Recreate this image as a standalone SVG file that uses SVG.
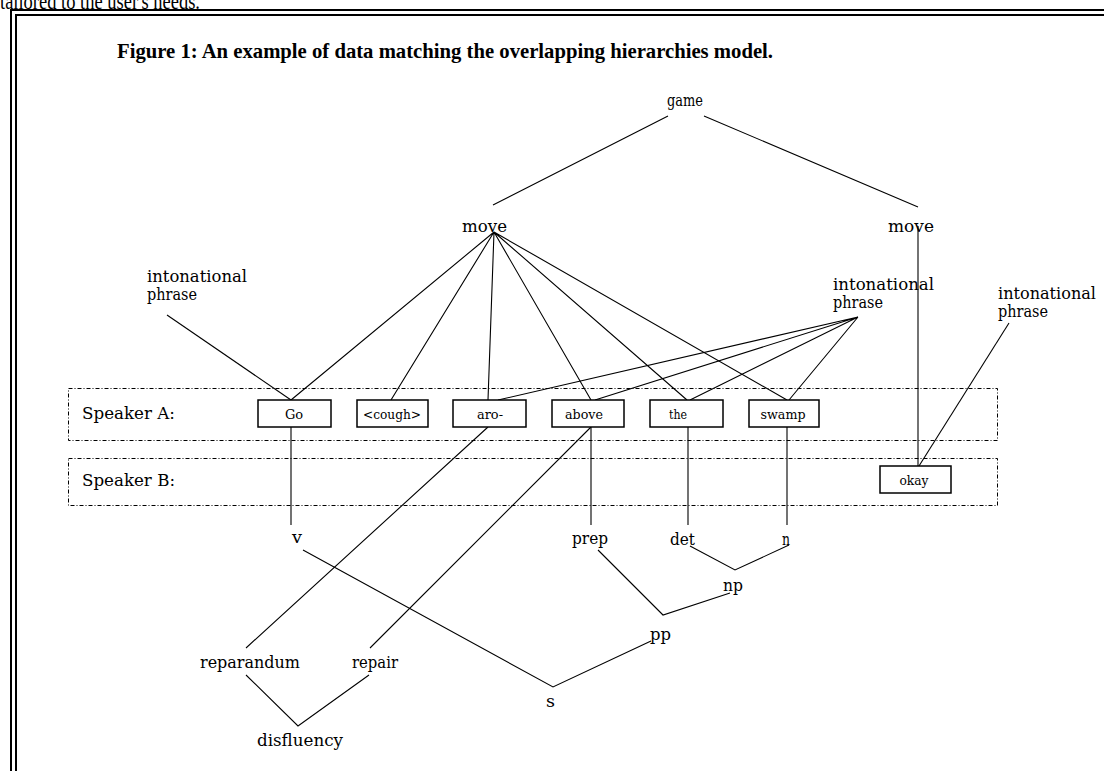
<svg xmlns="http://www.w3.org/2000/svg" width="1104" height="771" viewBox="0 0 1104 771">
<style>
.t{font-family:"DejaVu Serif","Liberation Serif",serif;font-size:17px;fill:#000}
.b{font-family:"DejaVu Serif","Liberation Serif",serif;font-size:13px;fill:#000;text-anchor:middle}
.ln{stroke:#000;stroke-width:1.1;fill:none}
.box{stroke:#000;stroke-width:1.5;fill:#fff}
.spk{stroke:#000;stroke-width:1;fill:none;stroke-dasharray:4,2,1,2}
.fr{stroke:#000;stroke-width:2;fill:none}
</style>
<rect width="1104" height="771" fill="#fff"/>
<text x="0" y="9" font-family="Liberation Serif,serif" font-size="24" textLength="200" lengthAdjust="spacingAndGlyphs">tailored to the user's needs.</text>
<path class="fr" d="M11,771 V10 H1104"/>
<path class="fr" d="M16,771 V15 H1104"/>
<text x="117" y="58" font-family="Liberation Serif,serif" font-weight="bold" font-size="21" textLength="656" lengthAdjust="spacingAndGlyphs">Figure 1:  An example of data matching the overlapping hierarchies model.</text>

<g id="speakerA"><rect class="spk" x="68.5" y="388.5" width="929" height="52"/><text class="t" x="82" y="419" textLength="93" lengthAdjust="spacingAndGlyphs">Speaker A:</text></g>
<g id="speakerB"><rect class="spk" x="68.5" y="458.5" width="929" height="47"/><text class="t" x="82" y="486" textLength="93" lengthAdjust="spacingAndGlyphs">Speaker B:</text></g>

<g id="connectors">
<path class="ln" d="M493,205 L668,116 M704,116 L918,207"/>
<path class="ln" d="M494,232 L291,400 M494,232 L391,400 M494,232 L488,400 M494,232 L591,400 M494,232 L687,400 M494,232 L787,400"/>
<path class="ln" d="M167,315 L291,400"/>
<path class="ln" d="M858,317 L498,400 M858,317 L595,400 M858,317 L690,400 M858,317 L789,400"/>
<path class="ln" d="M918,226 V466"/>
<path class="ln" d="M1009,323 L919,466"/>
<path class="ln" d="M291,427 V525 M591,427 V525 M688,427 V525 M787,427 V525"/>
<path class="ln" d="M488,427 L246,648 M591,427 L370,648"/>
<path class="ln" d="M303,550 L553,687 L651,641"/>
<path class="ln" d="M598,550 L663,615 L730,593"/>
<path class="ln" d="M690,546 L735,570 L789,545"/>
<path class="ln" d="M246,675 L298,726 L369,675"/>
</g>

<g id="game"><text class="t" x="667" y="106" textLength="36" lengthAdjust="spacingAndGlyphs">game</text></g>
<g id="move1"><text class="t" x="462" y="232" textLength="45" lengthAdjust="spacingAndGlyphs">move</text></g>
<g id="move2"><text class="t" x="888" y="232" textLength="46" lengthAdjust="spacingAndGlyphs">move</text></g>
<g id="ip1"><text class="t" x="147" y="282" textLength="100" lengthAdjust="spacingAndGlyphs">intonational</text><text class="t" x="147" y="300" textLength="50" lengthAdjust="spacingAndGlyphs">phrase</text></g>
<g id="ip2"><text class="t" x="833" y="290" textLength="101" lengthAdjust="spacingAndGlyphs">intonational</text><text class="t" x="833" y="308" textLength="50" lengthAdjust="spacingAndGlyphs">phrase</text></g>
<g id="ip3"><text class="t" x="998" y="299" textLength="98" lengthAdjust="spacingAndGlyphs">intonational</text><text class="t" x="998" y="317" textLength="50" lengthAdjust="spacingAndGlyphs">phrase</text></g>

<g id="w-go"><rect class="box" x="258" y="400" width="73" height="27"/><text class="b" x="294" y="419">Go</text></g>
<g id="w-cough"><rect class="box" x="357" y="400" width="71" height="27"/><text class="b" x="392" y="419" textLength="58" lengthAdjust="spacingAndGlyphs">&lt;cough&gt;</text></g>
<g id="w-aro"><rect class="box" x="453" y="400" width="73" height="27"/><text class="b" x="490" y="419" textLength="26" lengthAdjust="spacingAndGlyphs">aro-</text></g>
<g id="w-above"><rect class="box" x="552" y="400" width="72" height="27"/><text class="b" x="584" y="419" textLength="38" lengthAdjust="spacingAndGlyphs">above</text></g>
<g id="w-the"><rect class="box" x="650" y="400" width="73" height="27"/><text class="b" x="678" y="419" textLength="18" lengthAdjust="spacingAndGlyphs">the</text></g>
<g id="w-swamp"><rect class="box" x="749" y="400" width="70" height="27"/><text class="b" x="783" y="419" textLength="45" lengthAdjust="spacingAndGlyphs">swamp</text></g>
<g id="w-okay"><rect class="box" x="880" y="466" width="71" height="27"/><text class="b" x="914" y="485" textLength="29" lengthAdjust="spacingAndGlyphs">okay</text></g>

<g id="v"><text class="t" x="292" y="543" textLength="10" lengthAdjust="spacingAndGlyphs">v</text></g>
<g id="prep"><text class="t" x="572" y="544" textLength="36" lengthAdjust="spacingAndGlyphs">prep</text></g>
<g id="det"><text class="t" x="670" y="545" textLength="25" lengthAdjust="spacingAndGlyphs">det</text></g>
<g id="n"><text class="t" x="782" y="545" textLength="8" lengthAdjust="spacingAndGlyphs">n</text></g>
<g id="np"><text class="t" x="723" y="591" textLength="20" lengthAdjust="spacingAndGlyphs">np</text></g>
<g id="pp"><text class="t" x="650" y="640" textLength="21" lengthAdjust="spacingAndGlyphs">pp</text></g>
<g id="s"><text class="t" x="546" y="707" textLength="9" lengthAdjust="spacingAndGlyphs">s</text></g>
<g id="reparandum"><text class="t" x="200" y="668" textLength="100" lengthAdjust="spacingAndGlyphs">reparandum</text></g>
<g id="repair"><text class="t" x="352" y="668" textLength="46" lengthAdjust="spacingAndGlyphs">repair</text></g>
<g id="disfluency"><text class="t" x="257" y="746" textLength="86" lengthAdjust="spacingAndGlyphs">disfluency</text></g>
</svg>
